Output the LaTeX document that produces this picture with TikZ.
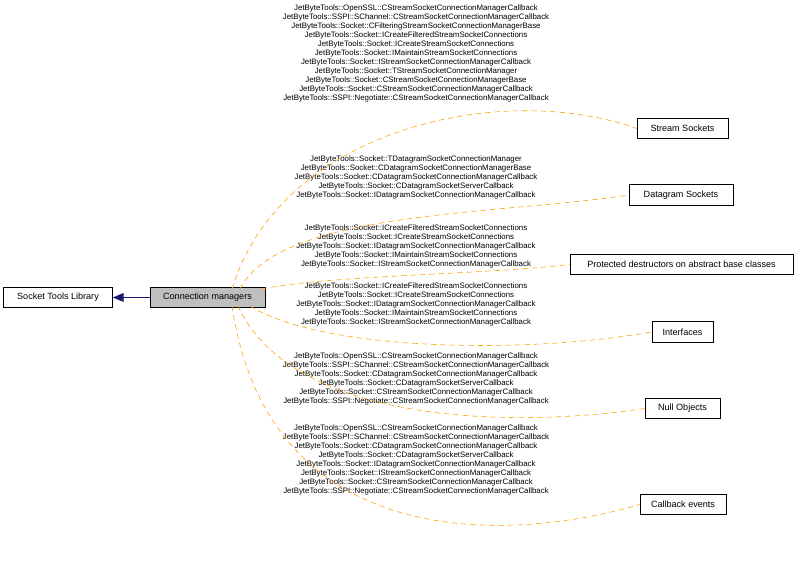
\documentclass[tikz,border=0pt]{standalone}
\usepackage{fontspec}
\setmainfont{Liberation Sans}
\usetikzlibrary{arrows.meta}
\begin{document}
\begin{tikzpicture}[x=0.75pt,y=-0.75pt,
  box/.style={draw=black,line width=0.5pt,fill=white,font=\fontsize{6.8pt}{8pt}\selectfont,inner sep=0pt,minimum height=15.5pt},
  lbl/.style={font=\fontsize{5.9pt}{6.75pt}\selectfont,align=center,inner sep=0pt},
  dep/.style={draw={rgb,255:red,255;green,165;blue,0},dash pattern=on 4pt off 3pt,line width=0.45pt}]
\useasboundingbox (0,0) rectangle (800,584);
\node[box,minimum width=81.75pt] (stl) at (58,297.5) {Socket Tools Library};
\node[box,minimum width=86.25pt,fill={rgb,255:red,191;green,191;blue,191}] (cm) at (207.5,297.5) {Connection managers};
\node[box,minimum width=68.25pt] (ss) at (682.5,128.5) {Stream Sockets};
\node[box,minimum width=78pt] (ds) at (681,195) {Datagram Sockets};
\node[box,minimum width=167.25pt] (pd) at (681.5,264.5) {Protected destructors on abstract base classes};
\node[box,minimum width=45.75pt] (if) at (682.5,332) {Interfaces};
\node[box,minimum width=56.25pt] (no) at (682.5,408.5) {Null Objects};
\node[box,minimum width=64.5pt] (cb) at (683,504.5) {Callback events};
\draw[-{Triangle[length=8pt,width=6.5pt]},draw={rgb,255:red,25;green,25;blue,112},fill={rgb,255:red,25;green,25;blue,112},line width=0.5pt] (cm) -- (stl);

\node[lbl] (l1) at (416,53) {JetByteTools::OpenSSL::CStreamSocketConnectionManagerCallback\\JetByteTools::SSPI::SChannel::CStreamSocketConnectionManagerCallback\\JetByteTools::Socket::CFilteringStreamSocketConnectionManagerBase\\JetByteTools::Socket::ICreateFilteredStreamSocketConnections\\JetByteTools::Socket::ICreateStreamSocketConnections\\JetByteTools::Socket::IMaintainStreamSocketConnections\\JetByteTools::Socket::IStreamSocketConnectionManagerCallback\\JetByteTools::Socket::TStreamSocketConnectionManager\\JetByteTools::Socket::CStreamSocketConnectionManagerBase\\JetByteTools::Socket::CStreamSocketConnectionManagerCallback\\JetByteTools::SSPI::Negotiate::CStreamSocketConnectionManagerCallback};
\node[lbl] (l2) at (416,177.5) {JetByteTools::Socket::TDatagramSocketConnectionManager\\JetByteTools::Socket::CDatagramSocketConnectionManagerBase\\JetByteTools::Socket::CDatagramSocketConnectionManagerCallback\\JetByteTools::Socket::CDatagramSocketServerCallback\\JetByteTools::Socket::IDatagramSocketConnectionManagerCallback};
\node[lbl] (l3) at (416,246.5) {JetByteTools::Socket::ICreateFilteredStreamSocketConnections\\JetByteTools::Socket::ICreateStreamSocketConnections\\JetByteTools::Socket::IDatagramSocketConnectionManagerCallback\\JetByteTools::Socket::IMaintainStreamSocketConnections\\JetByteTools::Socket::IStreamSocketConnectionManagerCallback};
\node[lbl] (l4) at (416,304) {JetByteTools::Socket::ICreateFilteredStreamSocketConnections\\JetByteTools::Socket::ICreateStreamSocketConnections\\JetByteTools::Socket::IDatagramSocketConnectionManagerCallback\\JetByteTools::Socket::IMaintainStreamSocketConnections\\JetByteTools::Socket::IStreamSocketConnectionManagerCallback};
\node[lbl] (l5) at (416,378.5) {JetByteTools::OpenSSL::CStreamSocketConnectionManagerCallback\\JetByteTools::SSPI::SChannel::CStreamSocketConnectionManagerCallback\\JetByteTools::Socket::CDatagramSocketConnectionManagerCallback\\JetByteTools::Socket::CDatagramSocketServerCallback\\JetByteTools::Socket::CStreamSocketConnectionManagerCallback\\JetByteTools::SSPI::Negotiate::CStreamSocketConnectionManagerCallback};
\node[lbl] (l6) at (416,460) {JetByteTools::OpenSSL::CStreamSocketConnectionManagerCallback\\JetByteTools::SSPI::SChannel::CStreamSocketConnectionManagerCallback\\JetByteTools::Socket::CDatagramSocketConnectionManagerCallback\\JetByteTools::Socket::CDatagramSocketServerCallback\\JetByteTools::Socket::IDatagramSocketConnectionManagerCallback\\JetByteTools::Socket::IStreamSocketConnectionManagerCallback\\JetByteTools::Socket::CStreamSocketConnectionManagerCallback\\JetByteTools::SSPI::Negotiate::CStreamSocketConnectionManagerCallback};

\coordinate (c1) at (232,289);
\coordinate (c2) at (240,289);
\coordinate (c3) at (262,289);
\coordinate (c4) at (250,306);
\coordinate (c5) at (238,306);
\coordinate (c6) at (232,306);
\draw[dep] (c1) .. controls (280,130) and (500,80) .. (ss.west);
\draw[dep] (c2) .. controls (280,210) and (500,215) .. (ds.west);
\draw[dep] (c3) .. controls (330,275) and (480,275) .. (pd.west);
\draw[dep] (c4) .. controls (320,350) and (520,355) .. (if.west);
\draw[dep] (c5) .. controls (290,420) and (500,430) .. (no.west);
\draw[dep] (c6) .. controls (270,560) and (520,540) .. (cb.west);
\end{tikzpicture}
\end{document}
